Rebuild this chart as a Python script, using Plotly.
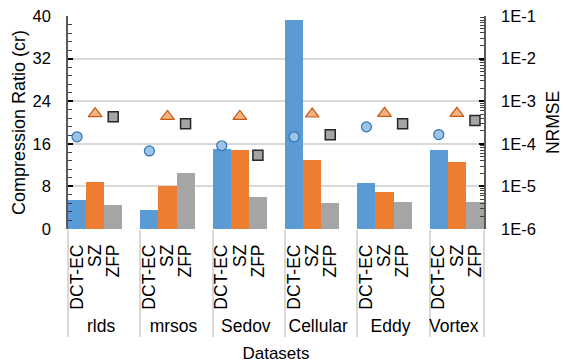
import plotly.graph_objects as go

# Datasets and compressors
datasets = ["rlds", "mrsos", "Sedov", "Cellular", "Eddy", "Vortex"]
methods = ["DCT-EC", "SZ", "ZFP"]

# Compression ratio per dataset (left axis)
cr_dctec = [5.5, 3.6, 15.1, 39.2, 8.7, 14.8]
cr_sz = [8.9, 8.1, 14.8, 13.0, 6.9, 12.6]
cr_zfp = [4.6, 10.6, 6.1, 4.8, 5.0, 5.1]

# NRMSE per dataset (right axis, log)
nrmse_dctec = [1.46e-4, 6.8e-5, 9.0e-5, 1.46e-4, 2.5e-4, 1.65e-4]
nrmse_sz = [5.1e-4, 4.4e-4, 4.4e-4, 5.0e-4, 5.2e-4, 5.2e-4]
nrmse_zfp = [4.3e-4, 2.95e-4, 5.4e-5, 1.62e-4, 2.95e-4, 3.5e-4]

# Left and right axis ticks
cr_ticks = [0, 8, 16, 24, 32, 40]
nrmse_tickvals = [1e-6, 1e-5, 1e-4, 1e-3, 1e-2, 1e-1]
nrmse_ticktext = ["1E-6", "1E-5", "1E-4", "1E-3", "1E-2", "1E-1"]

bar_colors = ["#5B9BD5", "#ED7D31", "#A5A5A5"]
FONT = "Liberation Sans, Arial, sans-serif"

fig = go.Figure()

cr_series = [cr_dctec, cr_sz, cr_zfp]
for name, vals, col in zip(methods, cr_series, bar_colors):
    fig.add_trace(go.Bar(
        x=[datasets, [name] * len(datasets)],
        y=vals,
        name=name,
        marker=dict(color=col, line=dict(width=0)),
        width=1.0,
    ))

# empty spacer slot after each group
fig.add_trace(go.Scatter(
    x=[datasets, [" "] * len(datasets)],
    y=[0] * len(datasets),
    mode="markers",
    marker=dict(opacity=0),
    hoverinfo="skip",
    showlegend=False,
))

marker_styles = [
    dict(symbol="circle", size=10, color="#9DC3E6", line=dict(color="#2E75B6", width=1.2)),
    dict(symbol="triangle-up", size=12, color="#F4B183", line=dict(color="#C55A11", width=1.2)),
    dict(symbol="square", size=10, color="#A5A5A5", line=dict(color="#262626", width=1.5)),
]
nrmse_series = [nrmse_dctec, nrmse_sz, nrmse_zfp]
for name, vals, ms in zip(methods, nrmse_series, marker_styles):
    fig.add_trace(go.Scatter(
        x=[datasets, [name] * len(datasets)],
        y=vals,
        yaxis="y2",
        mode="markers",
        marker=ms,
        name=name + " NRMSE",
    ))

minor_log = [m * 10.0 ** e for e in range(-6, -1) for m in range(2, 10)]

fig.update_layout(
    width=563, height=364,
    margin=dict(l=68, r=79, t=16, b=135),
    paper_bgcolor="white", plot_bgcolor="white",
    font=dict(family=FONT, size=16, color="#000000"),
    showlegend=False,
    barmode="overlay",
    bargap=0,
    xaxis=dict(
        type="multicategory",
        automargin=False,
        range=[-0.5, 22.5],
        tickmode="linear",
        tick0=0,
        dtick=1,
        tickangle=-90,
        showdividers=True,
        dividercolor="#D9D9D9",
        dividerwidth=1.5,
        showgrid=False,
        showline=False,
        ticks="",
        ticklabelstandoff=11,
        tickfont=dict(size=17.5),
        title=dict(text="Datasets", font=dict(size=17), standoff=11),
    ),
    yaxis=dict(
        automargin=False,
        range=[0, 40],
        tickvals=cr_ticks,
        showgrid=True,
        gridcolor="#D9D9D9",
        gridwidth=1.5,
        zeroline=False,
        showline=True,
        linecolor="#595959",
        linewidth=1.5,
        ticks="inside",
        ticklen=5,
        tickwidth=2,
        tickcolor="#000000",
        ticklabelstandoff=12,
        minor=dict(ticks="inside", dtick=1.6, ticklen=4, tickwidth=1, tickcolor="#404040", showgrid=False),
        tickfont=dict(size=16.5),
        title=dict(text="Compression Ratio (cr)", font=dict(size=18), standoff=2),
    ),
    yaxis2=dict(
        automargin=False,
        type="log",
        overlaying="y",
        side="right",
        range=[-6, -1],
        tickvals=nrmse_tickvals,
        ticktext=nrmse_ticktext,
        showgrid=False,
        zeroline=False,
        showline=True,
        linecolor="#595959",
        linewidth=1.5,
        ticks="inside",
        ticklen=5,
        tickwidth=2,
        tickcolor="#000000",
        ticklabelstandoff=12,
        minor=dict(ticks="inside", tickvals=minor_log, ticklen=4, tickwidth=1, tickcolor="#404040", showgrid=False),
        tickfont=dict(size=16.5),
        title=dict(text="NRMSE", font=dict(size=17.5), standoff=17),
    ),
)

fig.write_html("out.html")
